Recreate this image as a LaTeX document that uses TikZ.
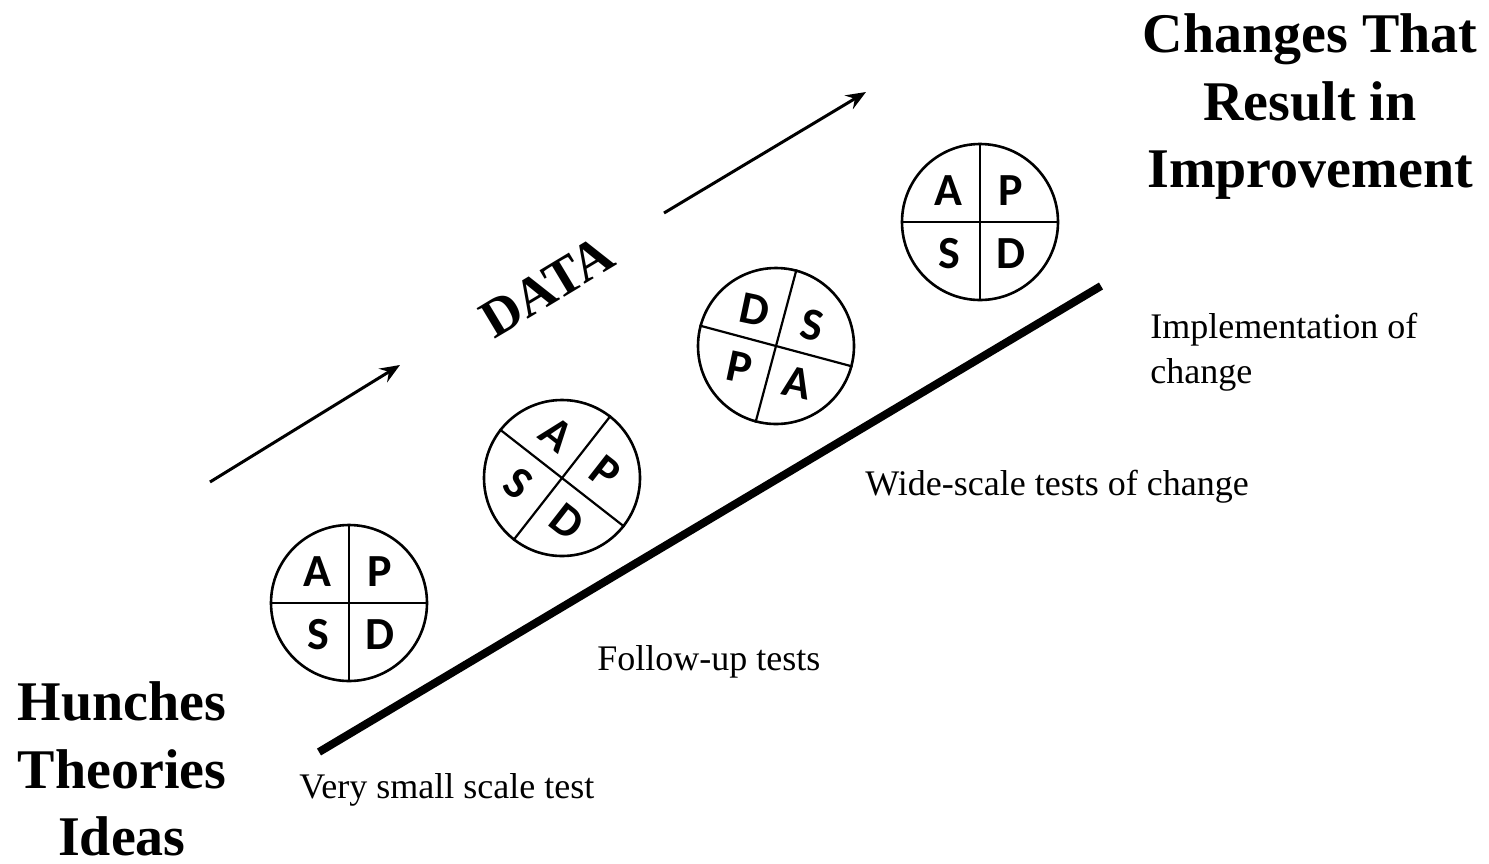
\documentclass[tikz,border=0pt]{standalone}
\usepackage{fontspec}
\setmainfont{Liberation Serif}
\newfontfamily\pdsafont{Carlito}
\usetikzlibrary{arrows.meta}
\begin{document}
\begin{tikzpicture}[x=0.5pt,y=-0.5pt,
  pdsa/.style={circle,draw,line width=1.3pt,minimum size=78pt,inner sep=0pt},
  quad/.style={line width=1.1pt},
  letter/.style={inner sep=0pt,font=\pdsafont\bfseries\fontsize{23}{23}\selectfont},
  title/.style={anchor=base,inner sep=0pt,font=\bfseries\fontsize{28}{30}\selectfont},
  label/.style={anchor=base west,inner sep=0pt,font=\fontsize{18}{20}\selectfont},
  flow/.style={line width=1.5pt,-{Stealth[length=10pt,width=8pt,inset=3.5pt]}},
  stair/.style={line width=4pt}]
\useasboundingbox (0,0) rectangle (1489,863);

% staircase line
\coordinate (s0) at (319,752);
\coordinate (s1) at (1101,286);
\draw[stair] (s0) -- (s1);

% arrows
\coordinate (a0) at (210,482);
\coordinate (a1) at (400,365);
\coordinate (b0) at (664,213);
\coordinate (b1) at (866,92);
\draw[flow] (a0) -- (a1);
\draw[flow] (b0) -- (b1);

\node[rotate=31,inner sep=0pt,font=\bfseries\fontsize{27}{30}\selectfont] (data) at (547,287) {DATA};

% circle 1
\node[pdsa] (c1) at (349,603) {};
\draw[quad] (c1.90) -- (c1.270);
\draw[quad] (c1.180) -- (c1.0);
\node[letter] (c1a) at ([shift={(135:22pt)}]c1.center) {A};
\node[letter] (c1p) at ([shift={(45:22pt)}]c1.center) {P};
\node[letter] (c1s) at ([shift={(225:22pt)}]c1.center) {S};
\node[letter] (c1d) at ([shift={(-45:22pt)}]c1.center) {D};

% circle 2
\node[pdsa] (c2) at (562,478) {};
\draw[quad] (c2.52) -- (c2.232);
\draw[quad] (c2.142) -- (c2.-38);
\node[letter,rotate=-38] (c2a) at ([shift={(97:22pt)}]c2.center) {A};
\node[letter,rotate=-38] (c2p) at ([shift={(7:22pt)}]c2.center) {P};
\node[letter,rotate=-38] (c2s) at ([shift={(187:22pt)}]c2.center) {S};
\node[letter,rotate=-38] (c2d) at ([shift={(-83:22pt)}]c2.center) {D};

% circle 3
\node[pdsa] (c3) at (776,346) {};
\draw[quad] (c3.75) -- (c3.255);
\draw[quad] (c3.165) -- (c3.-15);
\node[letter,rotate=-12] (c3d) at ([shift={(120:21pt)}]c3.center) {D};
\node[letter,rotate=-12] (c3s) at ([shift={(30:21pt)}]c3.center) {S};
\node[letter,rotate=-12] (c3p) at ([shift={(210:21pt)}]c3.center) {P};
\node[letter,rotate=-12] (c3a) at ([shift={(-60:21pt)}]c3.center) {A};

% circle 4
\node[pdsa] (c4) at (980,222) {};
\draw[quad] (c4.90) -- (c4.270);
\draw[quad] (c4.180) -- (c4.0);
\node[letter] (c4a) at ([shift={(135:22pt)}]c4.center) {A};
\node[letter] (c4p) at ([shift={(45:22pt)}]c4.center) {P};
\node[letter] (c4s) at ([shift={(225:22pt)}]c4.center) {S};
\node[letter] (c4d) at ([shift={(-45:22pt)}]c4.center) {D};

% titles
\node[title] (t1) at (1310,52) {Changes That};
\node[title] (t2) at (1310,120) {Result in};
\node[title] (t3) at (1310,187) {Improvement};
\node[title] (h1) at (122,720) {Hunches};
\node[title] (h2) at (122,788) {Theories};
\node[title] (h3) at (122,855) {Ideas};

% labels
\node[label] (l1) at (299,798) {Very small scale test};
\node[label] (l2) at (597,670) {Follow-up tests};
\node[label] (l3) at (865,495) {Wide-scale tests of change};
\node[label] (l4) at (1150,338) {Implementation of};
\node[label] (l5) at (1150,383) {change};
\end{tikzpicture}
\end{document}
